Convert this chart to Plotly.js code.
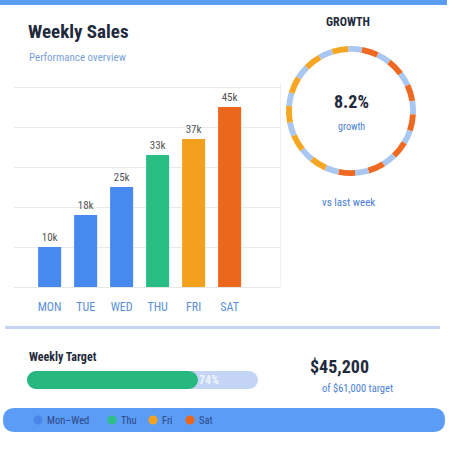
<!DOCTYPE html>
<html>
<head>
<meta charset="utf-8">
<script src="https://cdn.plot.ly/plotly-3.0.1.min.js"></script>
<style>html,body{margin:0;padding:0;background:#fff;}#chart{width:467px;height:450px;}</style>
</head>
<body>
<div id="chart"></div>
<script>
// ---- data ----
const days = ['MON', 'TUE', 'WED', 'THU', 'FRI', 'SAT'];
const sales = [10, 18, 25, 33, 37, 45]; // thousands
const barColors = ['#4689ef', '#4689ef', '#4689ef', '#28bd83', '#f3a01d', '#ea671c'];
const growthPct = 8.2;
const ringSegments = [1.1, 0.9, 1.1, 0.9, 1.1, 0.9, 1.1, 0.9, 1.1, 0.9, 1.1, 0.9, 1.1, 0.9, 1.1, 0.9, 1.1, 0.9, 1.1, 0.9, 1.1, 0.9, 1.1, 0.9, 1.1, 0.9];
const ringColors = ['#f5a623', '#a9c7f1', '#ee6a22', '#a9c7f1', '#ee6a22', '#a9c7f1', '#ee6a22', '#a9c7f1',
                    '#ee6a22', '#a9c7f1', '#ee6a22', '#a9c7f1', '#ee6a22', '#a9c7f1', '#ee6a22', '#a9c7f1',
                    '#f5a623', '#a9c7f1', '#f5a623', '#a9c7f1', '#f5a623', '#a9c7f1', '#f5a623', '#a9c7f1',
                    '#f5a623', '#a9c7f1'];
const currentSales = 45200;
const targetSales = 61000;
const legendLabels = ['Mon–Wed', 'Thu', 'Fri', 'Sat'];
const legendColors = ['#4a86e8', '#2dbf86', '#f4a21f', '#ea661c'];

// ---- helpers ----
const W = 467, H = 450;
const px = x => x / W;
const py = y => 1 - y / H;
const FONT = '"Roboto Condensed", Roboto, sans-serif';
const pct = Math.round(currentSales / targetSales * 100);
const fmt = v => '$' + v.toLocaleString('en-US');

const traces = [
  {
    type: 'bar', x: days, y: sales,
    marker: { color: barColors },
    text: sales.map(v => v + 'k'), textposition: 'outside',
    textfont: { family: FONT, size: 11, color: '#555555' },
    cliponaxis: false, hoverinfo: 'x+y', showlegend: false
  },
  {
    type: 'pie', values: ringSegments, sort: false, direction: 'clockwise', rotation: -17.6,
    hole: 0.91, marker: { colors: ringColors, line: { width: 0 } },
    textinfo: 'none', hoverinfo: 'skip', showlegend: false,
    domain: { x: [px(286), px(416)], y: [py(176), py(46)] }
  },
  // progress track
  { type: 'bar', orientation: 'h', y: [0], x: [100], base: [0], width: [1], xaxis: 'x2', yaxis: 'y2',
    marker: { color: '#c3d4f4', cornerradius: 9 }, hoverinfo: 'skip', showlegend: false },
  // progress fill
  { type: 'bar', orientation: 'h', y: [0], x: [pct], base: [0], width: [1], xaxis: 'x2', yaxis: 'y2',
    marker: { color: '#27b880', cornerradius: 9 }, hoverinfo: 'skip', showlegend: false }
];

const annotations = [
  { text: '<b>Weekly Sales</b>', x: px(26), y: py(31), xanchor: 'left', yanchor: 'middle',
    font: { family: FONT, size: 19, color: '#1f2a3c' } },
  { text: 'Performance overview', x: px(27), y: py(58), xanchor: 'left', yanchor: 'middle',
    font: { family: FONT, size: 11, color: '#7a9fdc' } },
  { text: '<b>GROWTH</b>', x: px(348), y: py(22), xanchor: 'center', yanchor: 'middle',
    font: { family: FONT, size: 12, color: '#1f2a3c' } },
  { text: '<b>' + growthPct + '%</b>', x: px(351), y: py(101), xanchor: 'center', yanchor: 'middle',
    font: { family: FONT, size: 18, color: '#1f2a3c' } },
  { text: 'growth', x: px(351), y: py(127), xanchor: 'center', yanchor: 'middle',
    font: { family: FONT, size: 10, color: '#4a7ed4' } },
  { text: 'vs last week', x: px(348), y: py(202), xanchor: 'center', yanchor: 'middle',
    font: { family: FONT, size: 11, color: '#4a7ed4' } },
  { text: '<b>Weekly Target</b>', x: px(27), y: py(357), xanchor: 'left', yanchor: 'middle',
    font: { family: FONT, size: 12, color: '#1f2a3c' } },
  { text: '<b>' + pct + '%</b>', x: px(209), y: py(380), xanchor: 'center', yanchor: 'middle',
    font: { family: FONT, size: 12, color: '#eef3fd' } },
  { text: '<b>' + fmt(currentSales) + '</b>', x: px(339), y: py(366), xanchor: 'center', yanchor: 'middle',
    font: { family: FONT, size: 18, color: '#1f2a3c' } },
  { text: 'of ' + fmt(targetSales) + ' target', x: px(357), y: py(388), xanchor: 'center', yanchor: 'middle',
    font: { family: FONT, size: 10.5, color: '#4a7ed4' } }
];

const shapes = [
  { type: 'rect', xref: 'paper', yref: 'paper', x0: 0, x1: px(447), y0: py(5), y1: 1,
    fillcolor: '#5b9cf4', line: { width: 0 }, layer: 'below' },
  { type: 'rect', xref: 'paper', yref: 'paper', x0: px(5), x1: px(440), y0: py(329), y1: py(326),
    fillcolor: '#c5d5f3', line: { width: 0 }, layer: 'below' },
  { type: 'path', xref: 'paper', yref: 'paper', layer: 'below', fillcolor: '#5b9cf4', line: { width: 0 },
    path: (() => {
      const x0 = 3, x1 = 445, y0 = 408, y1 = 432, r = 12;
      const X = v => px(v), Y = v => py(v);
      return `M ${X(x0 + r)},${Y(y0)} L ${X(x1 - r)},${Y(y0)} Q ${X(x1)},${Y(y0)} ${X(x1)},${Y(y0 + r)} ` +
             `Q ${X(x1)},${Y(y1)} ${X(x1 - r)},${Y(y1)} L ${X(x0 + r)},${Y(y1)} Q ${X(x0)},${Y(y1)} ${X(x0)},${Y(y1 - r)} ` +
             `Q ${X(x0)},${Y(y0)} ${X(x0 + r)},${Y(y0)} Z`;
    })() }
];

const legendX = [38, 112, 153, 190];
legendLabels.forEach((lab, i) => {
  shapes.push({ type: 'circle', xref: 'paper', yref: 'paper', x0: px(legendX[i] - 4.5), x1: px(legendX[i] + 4.5),
    y0: py(424.5), y1: py(415.5), fillcolor: legendColors[i], line: { width: 0 } });
  annotations.push({ text: lab, x: px(legendX[i] + 7), y: py(420), xanchor: 'left', yanchor: 'middle',
    font: { family: FONT, size: 10.5, color: '#2c4687' } });
});

annotations.forEach(a => { a.xref = 'paper'; a.yref = 'paper'; a.showarrow = false; });

const layout = {
  width: W, height: H, margin: { l: 0, r: 0, t: 0, b: 0 },
  paper_bgcolor: '#ffffff', plot_bgcolor: 'rgba(0,0,0,0)',
  barmode: 'overlay', bargap: 0.36,
  showlegend: false,
  xaxis: { domain: [px(14), px(280)], range: [-0.99, 6.4], showgrid: false, zeroline: false,
    showline: false, ticks: '', ticklabelstandoff: 11, fixedrange: true,
    tickfont: { family: FONT, size: 12, color: '#5b8fd9' } },
  yaxis: { domain: [py(287), py(83)], range: [0, 51], dtick: 10, showgrid: true, gridcolor: '#e9e9e9',
    gridwidth: 1, zeroline: true, zerolinecolor: '#e6e6e6', showticklabels: false, side: 'right',
    showline: true, linecolor: '#f0f0f0', fixedrange: true },
  xaxis2: { domain: [px(27), px(258)], range: [0, 100], visible: false, anchor: 'y2', fixedrange: true },
  yaxis2: { domain: [py(389), py(371)], range: [-0.5, 0.5], visible: false, anchor: 'x2', fixedrange: true },
  annotations: annotations,
  shapes: shapes
};

Plotly.newPlot('chart', traces, layout, { displayModeBar: false, staticPlot: true });
</script>
</body>
</html>
